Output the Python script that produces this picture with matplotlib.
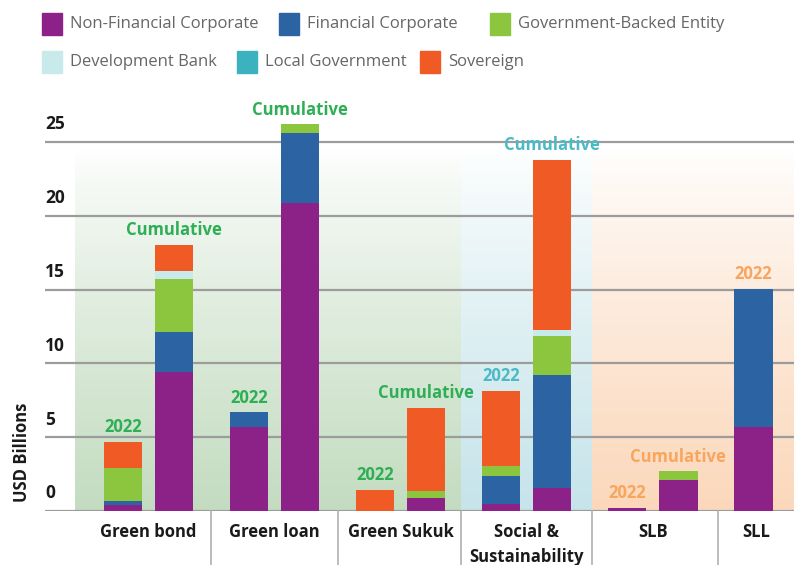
import numpy as np
import matplotlib.pyplot as plt
from matplotlib.patches import Rectangle
import matplotlib.transforms as mtransforms

# 数据
categories = ['Green bond', 'Green loan', 'Green Sukuk', 'Social &\nSustainability', 'SLB', 'SLL']
bar_group = [0, 0, 1, 1, 2, 2, 3, 3, 4, 4, 5]           # 每根柱子属于哪个类别
bar_kind = ['2022', 'Cumulative'] * 5 + ['2022']       # 柱子上方的文字
series_names = ['Non-Financial Corporate', 'Financial Corporate', 'Government-Backed Entity',
                'Development Bank', 'Local Government', 'Sovereign']
non_fin_corp = [0.4, 9.4, 5.7, 20.9, 0.0, 0.85, 0.45, 1.55, 0.2, 2.1, 5.7]
fin_corp = [0.3, 2.75, 1.0, 4.7, 0.0, 0.0, 1.9, 7.65, 0.0, 0.0, 9.35]
gov_backed = [2.2, 3.6, 0.0, 0.6, 0.0, 0.5, 0.7, 2.65, 0.0, 0.6, 0.0]
dev_bank = [0.0, 0.5, 0.0, 0.0, 0.0, 0.0, 0.0, 0.4, 0.0, 0.0, 0.0]
local_gov = [0.0] * 11
sovereign = [1.8, 1.8, 0.0, 0.0, 1.45, 5.65, 5.1, 11.55, 0.0, 0.0, 0.0]
y_ticks = [0, 5, 10, 15, 20, 25]

series = [non_fin_corp, fin_corp, gov_backed, dev_bank, local_gov, sovereign]
colors = ['#8c2287', '#2c63a3', '#8cc63e', '#c9eaea', '#3db2bf', '#f05a24']
label_colors = ['#2eae55', '#2eae55', '#2eae55', '#4bbac6', '#f8a55e', '#f8a55e']

W, H = 794, 565
fig = plt.figure(figsize=(W / 100, H / 100), dpi=100)
ax = fig.add_axes([45 / W, 54 / H, (W - 45) / W, (511 - 100) / H])
ax.set_xlim(-0.82, 5.12)
ax.set_ylim(0, 27.85)
ax.axis('off')

# 背景渐变
def gradient(x0, x1, y0, y1, rgb, power=0.8):
    t = np.linspace(0, 1, 256) ** power          # 0 顶部 -> 1 底部
    img = np.ones((256, 1, 3))
    for k in range(3):
        img[:, 0, k] = 1 - t * (1 - rgb[k])
    ax.imshow(img, extent=[x0, x1, y0, y1], aspect='auto', zorder=0, interpolation='bilinear')

def hex2rgb(h):
    return [int(h[i:i + 2], 16) / 255 for i in (1, 3, 5)]

gradient(-0.583, 2.48, 0, 24.5, hex2rgb('#c3dcc0'))
gradient(2.48, 3.52, 0, 24.5, hex2rgb('#c6e4ea'))
gradient(3.52, 5.12, 0, 24.5, hex2rgb('#fbd8bb'))

# 网格线
for v in y_ticks:
    ax.axhline(v, color='#9c9c9c', lw=1.6, zorder=1)
    ax.text(0, v + 1.2, str(v), transform=mtransforms.blended_transform_factory(ax.transAxes, ax.transData),
            ha='left', va='center', fontsize=12.5, fontweight='bold', color='#1a1a1a', family='Open Sans')

# 堆叠柱状图
off = 0.2024
xs = [g + (-off if k == '2022' else off) for g, k in zip(bar_group, bar_kind)]
bottom = np.zeros(len(xs))
for vals, c in zip(series, colors):
    ax.bar(xs, vals, width=0.305, bottom=bottom, color=c, zorder=2, linewidth=0)
    bottom += np.array(vals)

# 柱子上方标签
for x, top, k, g in zip(xs, bottom, bar_kind, bar_group):
    ax.annotate(k, (x, top), xytext=(0, 4), textcoords='offset points', ha='center', va='bottom',
                fontsize=12, fontweight='bold', color=label_colors[g], family='Open Sans',
                annotation_clip=False)

# 类别标签与分隔线
tr = mtransforms.blended_transform_factory(ax.transData, ax.transAxes)
for i, name in enumerate(categories):
    xc = i if i < 5 else xs[-1] + 0.02
    ax.text(xc, -0.028, name, transform=tr, ha='center', va='top', fontsize=12, fontweight='bold',
            color='#1a1a1a', family='Open Sans', linespacing=1.5)
for b in [0.5, 1.5, 2.48, 3.52, 4.52]:
    ax.plot([b, b], [0, -0.14], transform=tr, color='#b0b0b0', lw=1.2, clip_on=False)

# y 轴标题
fig.text(22 / W, 1 - 452 / H, 'USD Billions', rotation=90, ha='center', va='center',
         fontsize=12, fontweight='bold', color='#1a1a1a', family='Open Sans')

# 图例
legend_pos = [(42, 24), (279, 24), (490, 24), (42, 62), (237, 62), (420, 62)]
for (px, py), name, c in zip(legend_pos, series_names, colors):
    fig.patches.append(Rectangle((px / W, 1 - (py + 11) / H), 20 / W, 22 / H,
                                 transform=fig.transFigure, color=c))
    fig.text((px + 28) / W, 1 - py / H, name, ha='left', va='center', fontsize=12,
             color='#666666', family='Open Sans')

fig.savefig('out.png', dpi=100)
